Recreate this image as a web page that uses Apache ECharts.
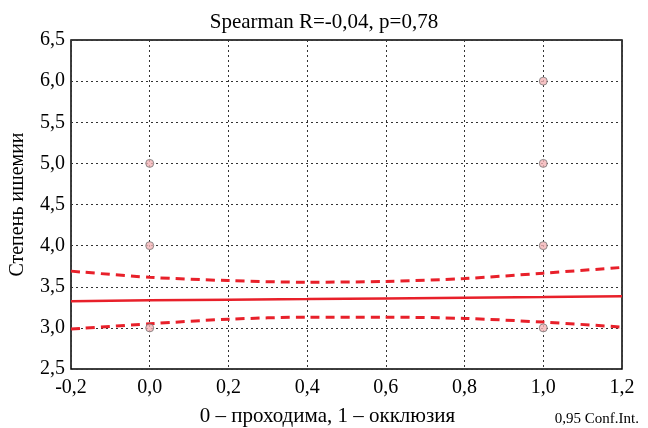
<!DOCTYPE html>
<html>
<head>
<meta charset="utf-8">
<script src="https://cdn.jsdelivr.net/npm/echarts@6/dist/echarts.min.js"></script>
<style>
  html, body { margin: 0; padding: 0; background: #fff; }
  #chart { width: 648px; height: 428px; }
</style>
</head>
<body>
<div id="chart"></div>
<script>
// observed points (group vs ischemia grade)
const pointsX = [0, 0, 0, 1, 1, 1, 1];
const pointsY = [3, 4, 5, 3, 4, 5, 6];

// regression line and 0.95 confidence band
const fitX = [-0.2, 0, 0.2, 0.4, 0.6, 0.8, 1.0, 1.2];
const fitY = [3.325, 3.335, 3.343, 3.35, 3.358, 3.366, 3.375, 3.385];
const upperY = [3.69, 3.615, 3.575, 3.555, 3.565, 3.6, 3.665, 3.735];
const lowerY = [2.985, 3.05, 3.105, 3.13, 3.13, 3.115, 3.07, 3.01];

const FONT = '"Liberation Serif", "DejaVu Serif", serif';
const RED = '#e8202a';

function fmt(v) {
    return v.toFixed(1).replace('.', ',');
}

function zip(xs, ys) {
    return xs.map(function (x, i) { return [x, ys[i]]; });
}

let chart = echarts.init(document.getElementById('chart'));

let options = {
    animation: false,
    backgroundColor: '#fff',
    title: {
        text: 'Spearman R=-0,04, p=0,78',
        left: 'center',
        top: 7,
        textStyle: { fontFamily: FONT, fontSize: 21, fontWeight: 'normal', color: '#000' }
    },
    grid: {
        left: 71, right: 26, top: 40, bottom: 59,
        outerBoundsMode: 'none',
        containLabel: false,
        show: true,
        borderColor: '#000',
        borderWidth: 1.5,
        backgroundColor: 'transparent'
    },
    xAxis: {
        type: 'value',
        min: -0.2,
        max: 1.2,
        interval: 0.2,
        name: '0 \u2013 проходима, 1 \u2013 окклюзия',
        nameLocation: 'middle',
        nameGap: 37,
        nameTextStyle: { fontFamily: FONT, fontSize: 21, color: '#000', padding: [0, 38, 0, 0] },
        axisLine: { show: false },
        axisTick: { show: false },
        axisLabel: {
            fontFamily: FONT, fontSize: 20, color: '#000', margin: 9,
            formatter: fmt
        },
        splitLine: { show: true, lineStyle: { color: '#333', type: [2, 3], width: 1 } }
    },
    yAxis: {
        type: 'value',
        min: 2.5,
        max: 6.5,
        interval: 0.5,
        name: 'Степень ишемии',
        nameLocation: 'middle',
        nameGap: 43,
        nameTextStyle: { fontFamily: FONT, fontSize: 20, color: '#000' },
        axisLine: { show: false },
        axisTick: { show: false },
        axisLabel: {
            fontFamily: FONT, fontSize: 20, color: '#000', margin: 6,
            formatter: fmt
        },
        splitLine: { show: true, lineStyle: { color: '#333', type: [2, 3], width: 1 } }
    },
    graphic: [
        {
            type: 'text',
            x: 639,
            y: 419,
            style: {
                text: '0,95 Conf.Int.', font: '15px ' + FONT, fill: '#000',
                textAlign: 'right', textVerticalAlign: 'middle'
            }
        }
    ],
    series: [
        {
            type: 'line',
            data: zip(fitX, upperY),
            showSymbol: false,
            smooth: 0.3,
            lineStyle: { color: RED, width: 3, type: [9, 6] },
            z: 3
        },
        {
            type: 'line',
            data: zip(fitX, lowerY),
            showSymbol: false,
            smooth: 0.3,
            lineStyle: { color: RED, width: 3, type: [9, 6] },
            z: 3
        },
        {
            type: 'line',
            data: zip(fitX, fitY),
            showSymbol: false,
            lineStyle: { color: RED, width: 2.5 },
            z: 3
        },
        {
            type: 'scatter',
            data: zip(pointsX, pointsY),
            symbol: 'circle',
            symbolSize: 8,
            itemStyle: { color: '#f4b4b6', borderColor: '#777', borderWidth: 1 },
            z: 4
        }
    ]
};

chart.setOption(options);
</script>
</body>
</html>
